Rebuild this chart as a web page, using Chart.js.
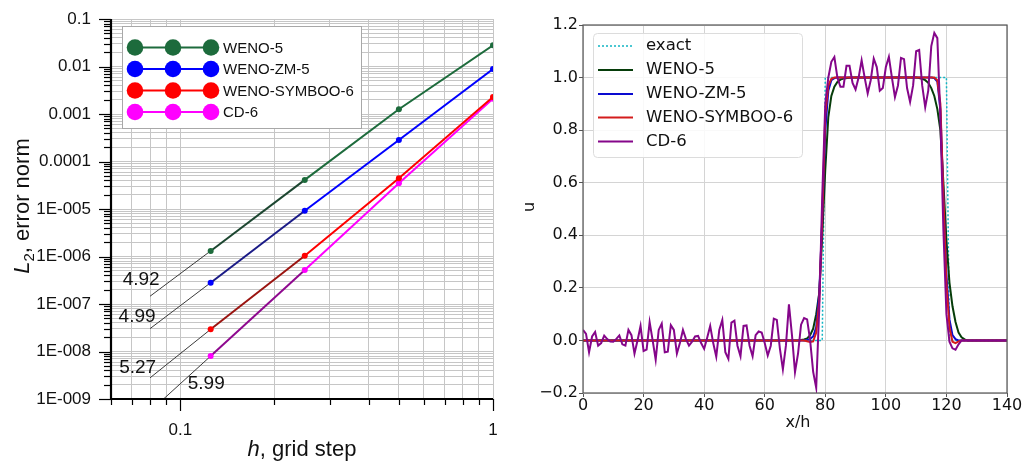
<!DOCTYPE html>
<html>
<head>
<meta charset="utf-8">
<script src="https://cdn.jsdelivr.net/npm/chart.js@4.4.1/dist/chart.umd.min.js"></script>
<style>
  html, body { margin: 0; padding: 0; background: #fff; }
  #wrap { position: relative; width: 1024px; height: 461px; }
  canvas { position: absolute; top: 0; }
  #conv { left: 0; }
  #prof { left: 512px; }
</style>
</head>
<body>
<div id="wrap">
  <canvas id="conv" width="512" height="461"></canvas>
  <canvas id="prof" width="512" height="461"></canvas>
</div>
<script>
// ---------- convergence: L2 error norm vs grid step ----------
const gridSteps = [0.125, 0.25, 0.5, 1];
const errWeno5 = [1.31e-6, 4.1e-5, 1.26e-3, 2.8e-2];
const errWenoZm5 = [2.81e-7, 9.2e-6, 2.84e-4, 8.85e-3];
const errSymboo6 = [2.93e-8, 1.04e-6, 4.43e-5, 2.28e-3];
const errCd6 = [8.0e-9, 5.2e-7, 3.47e-5, 2.1e-3];
const schemeNames = ['WENO-5', 'WENO-ZM-5', 'WENO-SYMBOO-6', 'CD-6'];

// observed orders of accuracy, drawn as guide lines through the finest point
const slopeOrders = [4.92, 4.99, 5.27, 5.99];
const slopeFrom = 0.08;

const hTicks = [0.06, 0.07, 0.08, 0.09, 0.1, 0.2, 0.3, 0.4, 0.5, 0.6, 0.7, 0.8, 0.9, 1];
const hTickValues = [0.1, 1];
const hTickLabels = ['0.1', '1'];
const errDecades = [-9, -8, -7, -6, -5, -4, -3, -2, -1];
const errTickLabels = ['1E-009', '1E-008', '1E-007', '1E-006', '1E-005', '0.0001', '0.001', '0.01', '0.1'];

// ---------- advected square wave: u vs x/h ----------
const profXTicks = [0, 20, 40, 60, 80, 100, 120, 140];
const profXLabels = ['0', '20', '40', '60', '80', '100', '120', '140'];
const uTicks = [-0.2, 0, 0.2, 0.4, 0.6, 0.8, 1.0, 1.2];
const uTickLabels = ['\u22120.2', '0.0', '0.2', '0.4', '0.6', '0.8', '1.0', '1.2'];

const exactX = [0, 79, 80, 120, 121, 140];
const exactU = [0, 0, 1, 1, 0, 0];

const weno5X = [0, 71, 72, 73, 74, 75, 76, 77, 78, 79, 80, 81, 82, 83, 84, 85, 86, 88, 90,
  110, 111, 112, 113, 114, 115, 116, 117, 118, 119, 120, 121, 122, 123, 124, 125, 126, 127, 140];
const weno5U = [0, 0, 0.002, 0.004, 0.008, 0.02, 0.045, 0.1, 0.18, 0.4, 0.65, 0.85, 0.93, 0.965, 0.983, 0.992, 0.996, 0.999, 1,
  1, 0.998, 0.995, 0.99, 0.98, 0.96, 0.93, 0.88, 0.8, 0.6, 0.38, 0.22, 0.13, 0.07, 0.03, 0.012, 0.004, 0, 0];

const wenoZm5X = [0, 73, 74, 75, 76, 77, 78, 79, 80, 81, 82, 83, 84,
  115, 116, 117, 118, 119, 120, 121, 122, 123, 124, 140];
const wenoZm5U = [0, 0, 0.002, 0.006, 0.015, 0.05, 0.18, 0.46, 0.8, 0.95, 0.99, 0.998, 1,
  1, 0.998, 0.985, 0.88, 0.55, 0.25, 0.08, 0.02, 0.005, 0, 0];

const symboo6X = [0, 73, 74, 75, 76, 77, 78, 79, 80, 81, 82, 83,
  116, 117, 118, 119, 120, 121, 122, 123, 124, 125, 140];
const symboo6U = [0, 0, -0.003, -0.006, -0.004, 0.03, 0.15, 0.47, 0.86, 0.97, 0.995, 1,
  1, 0.99, 0.9, 0.55, 0.22, 0.05, -0.005, -0.01, -0.004, 0, 0];

// CD-6 at every grid node x/h = 0..140
const cd6U = [
  0.04, 0.025, -0.045, 0.015, 0.032, -0.02, -0.01, 0.018, 0.005, -0.004,
  -0.005, 0.006, 0.019, -0.015, -0.02, 0.04, 0.02, -0.05, 0.0, 0.055,
  -0.04, -0.035, 0.07, 0.0, -0.073, 0.04, 0.064, -0.045, -0.043, 0.058,
  0.04, -0.05, -0.01, 0.04, 0.005, -0.02, -0.005, 0.015, 0.017, -0.01,
  -0.032, 0.01, 0.055, -0.01, -0.062, 0.04, 0.078, -0.045, -0.07, 0.068,
  0.075, -0.02, -0.06, 0.055, 0.057, -0.02, -0.06, 0.02, 0.034, 0.03,
  -0.01, -0.057, -0.02, 0.083, 0.078, -0.03, -0.11, -0.02, 0.137, 0.02,
  -0.12, -0.05, 0.06, 0.085, 0.08, 0.0, -0.12, -0.18, 0.12, 0.55,
  0.9, 1.0, 1.06, 1.078, 1.0, 0.965, 0.965, 1.045, 1.045, 0.98,
  0.955, 1.0, 1.066, 1.0, 0.94, 0.99, 1.072, 1.04, 0.95, 0.96,
  1.04, 1.079, 1.0, 0.926, 0.97, 1.075, 1.07, 0.96, 0.907, 0.97,
  1.1, 1.105, 0.97, 0.887, 0.95, 1.12, 1.17, 1.15, 0.85, 0.42,
  0.1, -0.005, -0.03, -0.035, -0.015, 0.0, 0.0, 0, 0, 0,
  0, 0, 0, 0, 0, 0, 0, 0, 0, 0,
  0
];

const LEFT_FONT = '"Liberation Sans", Arial, sans-serif';
const RIGHT_FONT = '"DejaVu Sans", sans-serif';

const convColors = ['#1d6b3c', '#0000ff', '#ff0000', '#ff00ff'];
const convDark = ['#1c4630', '#1a1a86', '#9a1410', '#8e088e'];
const convErrors = [errWeno5, errWenoZm5, errSymboo6, errCd6];
const convOrder = [3, 2, 0, 1];

const isDecade = v => Math.abs(Math.log10(v) - Math.round(Math.log10(v))) < 1e-6;

// slope label anchors, in (h, L2) units
const slopeLabelAt = [[0.0749, 3.2e-7], [0.0727, 5.3e-8], [0.0730, 4.5e-9], [0.121, 2.07e-9]];

// fixed axis boxes; drop the label overhang so layout.padding alone sets the plot edges
const fixBox = (w, h) => s => {
  if (w !== null) s.width = w;
  if (h !== null) s.height = h;
  s.paddingTop = s.paddingBottom = s.paddingLeft = s.paddingRight = 0;
};

const convDatasets = [];
convErrors.forEach((errs, i) => {
  convDatasets.push({
    label: schemeNames[i],
    data: gridSteps.map((h, k) => ({ x: h, y: errs[k] })),
    borderColor: convColors[i],
    backgroundColor: convColors[i],
    borderWidth: 2,
    pointRadius: 3,
    pointBorderWidth: 0,
    pointBackgroundColor: convColors[i],
    order: convOrder[i],
    segment: { borderColor: c => c.p0DataIndex === 0 ? convDark[i] : undefined }
  });
  const e0 = errs[0];
  convDatasets.push({
    label: 'order ' + slopeOrders[i],
    data: [
      { x: slopeFrom, y: e0 * Math.pow(slopeFrom / gridSteps[0], slopeOrders[i]) },
      { x: gridSteps[0], y: e0 }
    ],
    borderColor: '#3a3a3a',
    borderWidth: 1,
    pointRadius: 0,
    order: 10
  });
});

const convDecor = {
  id: 'convDecor',
  afterDraw(chart) {
    const { ctx, chartArea: a, scales: { x, y } } = chart;
    ctx.save();
    // tick marks
    ctx.strokeStyle = '#000';
    ctx.lineWidth = 1.2;
    y.ticks.forEach(t => {
      const py = Math.round(y.getPixelForValue(t.value)) + 0.5;
      const len = isDecade(t.value) ? 12 : 7;
      ctx.beginPath(); ctx.moveTo(a.left - len, py); ctx.lineTo(a.left, py); ctx.stroke();
    });
    x.ticks.forEach(t => {
      const px = Math.round(x.getPixelForValue(t.value)) + 0.5;
      const len = isDecade(t.value) ? 12 : 6;
      ctx.beginPath(); ctx.moveTo(px, a.bottom); ctx.lineTo(px, a.bottom + len); ctx.stroke();
    });
    // axis lines
    ctx.lineWidth = 2.2;
    ctx.beginPath();
    ctx.moveTo(a.left, a.top); ctx.lineTo(a.left, a.bottom); ctx.lineTo(a.right, a.bottom);
    ctx.stroke();

    // order labels
    ctx.fillStyle = '#111';
    ctx.font = '19px ' + LEFT_FONT;
    ctx.textAlign = 'center';
    ctx.textBaseline = 'middle';
    slopeOrders.forEach((o, i) => {
      const [h, e] = slopeLabelAt[i];
      ctx.fillText(o.toFixed(2), x.getPixelForValue(h), y.getPixelForValue(e));
    });

    // legend with three markers per entry
    const bx = 122, by = 26, bw = 239, bh = 102;
    ctx.fillStyle = '#fff';
    ctx.fillRect(bx, by, bw, bh);
    ctx.strokeStyle = '#a8a8a8';
    ctx.lineWidth = 1;
    ctx.strokeRect(bx + 0.5, by + 0.5, bw, bh);
    const rows = [47.5, 69, 90.5, 112];
    ctx.font = '15px ' + LEFT_FONT;
    ctx.textAlign = 'left';
    schemeNames.forEach((name, i) => {
      const ry = rows[i];
      ctx.strokeStyle = convColors[i];
      ctx.lineWidth = 2;
      ctx.beginPath(); ctx.moveTo(135, ry); ctx.lineTo(211, ry); ctx.stroke();
      ctx.fillStyle = convColors[i];
      [135, 173, 211].forEach(cx => {
        ctx.beginPath(); ctx.arc(cx, ry, 8.3, 0, Math.PI * 2); ctx.fill();
      });
      ctx.fillStyle = '#111';
      ctx.fillText(name, 223, ry + 1);
    });

    // axis titles with italic symbols
    const drawParts = (parts, cx, base) => {
      let total = 0;
      parts.forEach(p => { ctx.font = p.font; total += ctx.measureText(p.t).width; });
      let px = cx - total / 2;
      parts.forEach(p => {
        ctx.font = p.font;
        ctx.fillText(p.t, px, base + (p.dy || 0));
        px += ctx.measureText(p.t).width;
      });
    };
    ctx.fillStyle = '#111';
    ctx.textAlign = 'left';
    ctx.textBaseline = 'alphabetic';
    drawParts([
      { t: 'h', font: 'italic 22px ' + LEFT_FONT },
      { t: ', grid step', font: '22px ' + LEFT_FONT }
    ], (a.left + a.right) / 2, 456);
    ctx.save();
    ctx.translate(29, 206);
    ctx.rotate(-Math.PI / 2);
    drawParts([
      { t: 'L', font: 'italic 22px ' + LEFT_FONT },
      { t: '2', font: '15px ' + LEFT_FONT, dy: 5 },
      { t: ', error norm', font: '22px ' + LEFT_FONT }
    ], 0, 0);
    ctx.restore();
    ctx.restore();
  }
};

new Chart(document.getElementById('conv'), {
  type: 'line',
  data: { datasets: convDatasets },
  options: {
    responsive: false,
    animation: false,
    layout: { padding: { left: 0, top: 19, right: 19, bottom: 0 } },
    plugins: { legend: { display: false }, tooltip: { enabled: false } },
    scales: {
      x: {
        type: 'logarithmic',
        min: 0.06,
        max: 1,
        afterFit: fixBox(null, 62),
        afterBuildTicks: s => { s.ticks = hTicks.map(v => ({ value: v })); },
        border: { display: false },
        grid: { color: '#c6c6c6', lineWidth: 1, drawTicks: false },
        ticks: {
          autoSkip: false,
          maxRotation: 0,
          padding: 21,
          color: '#111',
          font: { family: LEFT_FONT, size: 17 },
          callback: v => {
            const k = hTickValues.findIndex(t => Math.abs(t - v) < 1e-9);
            return k < 0 ? '' : hTickLabels[k];
          }
        }
      },
      y: {
        type: 'logarithmic',
        min: 1e-9,
        max: 0.1,
        afterFit: fixBox(111, null),
        afterBuildTicks: s => {
          const ticks = [];
          errDecades.forEach(d => {
            for (let m = 1; m <= 9; m++) {
              if (d === -1 && m > 1) break;
              ticks.push({ value: m * Math.pow(10, d) });
            }
          });
          s.ticks = ticks;
        },
        border: { display: false },
        grid: { color: '#c6c6c6', lineWidth: 1, drawTicks: false },
        ticks: {
          autoSkip: false,
          padding: 20,
          color: '#111',
          font: { family: LEFT_FONT, size: 17 },
          callback: v => {
            if (!isDecade(v)) return '';
            return errTickLabels[errDecades.indexOf(Math.round(Math.log10(v)))];
          }
        }
      }
    }
  },
  plugins: [convDecor]
});

// ---------- right panel ----------
const profNames = ['exact', 'WENO-5', 'WENO-ZM-5', 'WENO-SYMBOO-6', 'CD-6'];
const profColors = ['#11b5c4', '#063d0a', '#0a0ad0', '#d41c1c', '#85068a'];
const pairs = (xs, us) => xs.map((x, i) => ({ x: x, y: us[i] }));

const profSeries = [
  pairs(exactX, exactU),
  pairs(weno5X, weno5U),
  pairs(wenoZm5X, wenoZm5U),
  pairs(symboo6X, symboo6U),
  cd6U.map((u, i) => ({ x: i, y: u }))
];

const profDatasets = profSeries.map((d, i) => ({
  label: profNames[i],
  data: d,
  borderColor: profColors[i],
  borderWidth: i === 0 ? 1.5 : 2,
  borderDash: i === 0 ? [2, 2] : [],
  pointRadius: 0,
  tension: 0,
  order: 4 - i
}));

const profDecor = {
  id: 'profDecor',
  afterDatasetsDraw(chart) {
    const { ctx, chartArea: a } = chart;
    ctx.save();
    ctx.strokeStyle = '#555';
    ctx.lineWidth = 1.2;
    ctx.strokeRect(a.left, a.top, a.right - a.left, a.bottom - a.top);
    ctx.restore();
  },
  afterDraw(chart) {
    const { ctx } = chart;
    ctx.save();
    // legend
    const bx = 81, by = 33, bw = 209, bh = 124, r = 4;
    ctx.beginPath();
    ctx.roundRect(bx + 0.5, by + 0.5, bw, bh, r);
    ctx.fillStyle = 'rgba(255,255,255,0.85)';
    ctx.fill();
    ctx.strokeStyle = '#dcdcdc';
    ctx.lineWidth = 1;
    ctx.stroke();
    const rows = [46, 70, 94, 117.5, 141.5];
    ctx.font = '16.5px ' + RIGHT_FONT;
    ctx.textAlign = 'left';
    ctx.textBaseline = 'middle';
    profNames.forEach((name, i) => {
      ctx.strokeStyle = profColors[i];
      ctx.lineWidth = i === 0 ? 1.5 : 2;
      ctx.setLineDash(i === 0 ? [2, 2] : []);
      ctx.beginPath(); ctx.moveTo(86, rows[i]); ctx.lineTo(121, rows[i]); ctx.stroke();
      ctx.setLineDash([]);
      ctx.fillStyle = '#111';
      ctx.fillText(name, 134, rows[i]);
    });
    // axis titles
    ctx.font = '16px ' + RIGHT_FONT;
    ctx.textAlign = 'center';
    ctx.textBaseline = 'alphabetic';
    ctx.fillText('x/h', 286, 427);
    ctx.save();
    ctx.translate(21.5, 207);
    ctx.rotate(-Math.PI / 2);
    ctx.fillText('u', 0, 0);
    ctx.restore();
    ctx.restore();
  }
};

new Chart(document.getElementById('prof'), {
  type: 'line',
  data: { datasets: profDatasets },
  options: {
    responsive: false,
    animation: false,
    layout: { padding: { left: 0, top: 25, right: 17, bottom: 0 } },
    plugins: { legend: { display: false }, tooltip: { enabled: false } },
    scales: {
      x: {
        type: 'linear',
        min: 0,
        max: 140,
        afterFit: fixBox(null, 68),
        afterBuildTicks: s => { s.ticks = profXTicks.map(v => ({ value: v })); },
        border: { display: false },
        grid: { color: '#d4d4d4', lineWidth: 1, tickLength: 4, tickColor: '#555' },
        ticks: {
          maxRotation: 0,
          padding: -1,
          color: '#111',
          font: { family: RIGHT_FONT, size: 16 },
          callback: (v, i) => profXLabels[i]
        }
      },
      y: {
        type: 'linear',
        min: -0.2,
        max: 1.2,
        afterFit: fixBox(71, null),
        afterBuildTicks: s => { s.ticks = uTicks.map(v => ({ value: v })); },
        border: { display: false },
        grid: { color: '#d4d4d4', lineWidth: 1, tickLength: 4, tickColor: '#555' },
        ticks: {
          padding: 1,
          color: '#111',
          font: { family: RIGHT_FONT, size: 16 },
          callback: (v, i) => uTickLabels[i]
        }
      }
    }
  },
  plugins: [profDecor]
});
</script>
</body>
</html>
